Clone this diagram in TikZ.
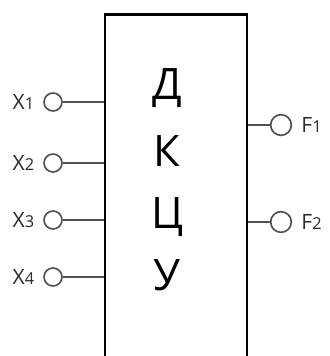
\documentclass[tikz,border=0pt]{standalone}
\usepackage{fontspec}
\setmainfont{Open Sans}
\usetikzlibrary{positioning}
\definecolor{pingray}{HTML}{505050}
\definecolor{labelgray}{HTML}{2A2A2A}
\tikzset{
  pin/.style={circle, draw=pingray, line width=1.4pt, fill=white, inner sep=0pt},
  inpin/.style={pin, minimum size=5.4mm},
  outpin/.style={pin, minimum size=6.2mm},
  wire/.style={draw=pingray, line width=1.8pt},
  pinlabel/.style={text=labelgray, font=\fontsize{18}{18}\selectfont, inner sep=0pt},
  letter/.style={font=\fontsize{37}{37}\selectfont, anchor=base, inner sep=0pt},
}
\newcommand{\pinname}[2]{#1{\fontsize{14}{14}\selectfont #2}}

\begin{document}
\begin{tikzpicture}[x=0.3mm, y=-0.3mm]
  \useasboundingbox (0,0) rectangle (329,356);
  \clip (0,0) rectangle (329,356);

  %% block, runs off the bottom edge
  \node[draw, line width=2pt, minimum width=42.6mm, minimum height=110mm] (dkcu) at (176,198) {};
  \foreach \ch/\yb [count=\i] in {Д/99, К/166, Ц/228, У/290}
    \node[letter] (let\i) at (167,\yb) {\ch};

  %% inputs
  \foreach \yy [count=\i] in {102,163,220,277} {
    \node[inpin] (x\i) at (53,\yy) {};
    \node[pinlabel, left=2.6mm of x\i] (xl\i) {\pinname{X}{\i}};
    \draw[wire] (x\i) -- (x\i -| dkcu.west);
  }

  %% outputs
  \foreach \yy [count=\i] in {125,222} {
    \node[outpin] (f\i) at (281,\yy) {};
    \node[pinlabel, right=2.7mm of f\i] (fl\i) {\pinname{F}{\i}};
    \draw[wire] (f\i -| dkcu.east) -- (f\i);
  }
\end{tikzpicture}
\end{document}
